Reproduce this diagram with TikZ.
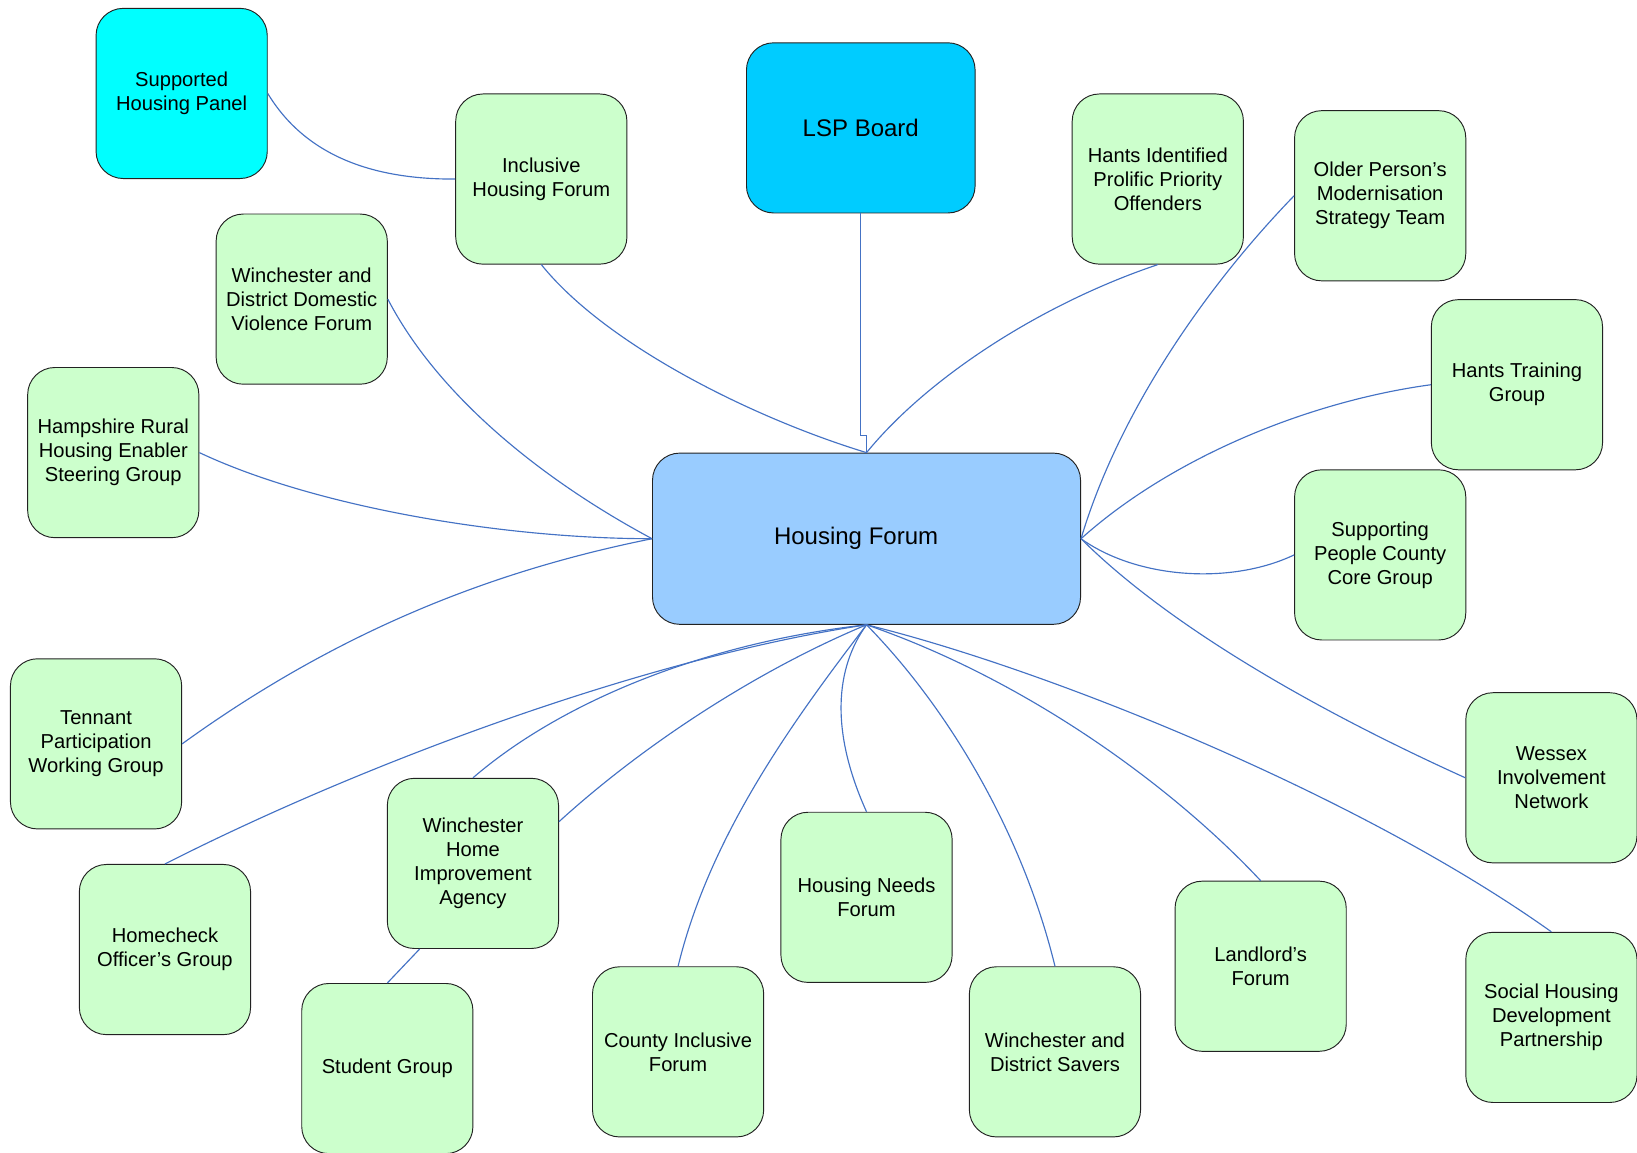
\documentclass[tikz,border=0pt]{standalone}
\usepackage{fontspec}
\setmainfont{Liberation Sans}
\usetikzlibrary{calc}
\definecolor{boxgreen}{HTML}{CCFFCC}
\definecolor{boxcyan}{HTML}{00FFFF}
\definecolor{boxlsp}{HTML}{00CCFF}
\definecolor{boxhf}{HTML}{99CCFF}
\definecolor{linkblue}{HTML}{4472C4}
\definecolor{edgegray}{HTML}{222222}
\tikzset{
  grp/.style={draw=edgegray, line width=0.9pt, fill=boxgreen, rounded corners=26pt,
    minimum width=164pt, minimum height=163pt, inner sep=0pt, align=center,
    font=\fontsize{19.3}{23}\selectfont},
  link/.style={draw=linkblue, line width=1.1pt},
}
\begin{document}
\begin{tikzpicture}[x=1pt,y=-1pt]
\useasboundingbox (0,0) rectangle (1568,1104);
% nodes
\node[grp, fill=boxcyan] (shp) at (174,89.5) {Supported\\Housing Panel};
\node[grp] (ihf) at (518.5,171.5) {Inclusive\\Housing Forum};
\node[grp, fill=boxlsp, minimum width=219pt, font=\fontsize{23}{27}\selectfont] (lsp) at (824.5,122.5) {LSP Board};
\node[grp] (hipo) at (1109,171.5) {Hants Identified\\Prolific Priority\\Offenders};
\node[grp] (opm) at (1322,187.5) {Older Person’s\\Modernisation\\Strategy Team};
\node[grp] (wddv) at (289,286.5) {Winchester and\\District Domestic\\Violence Forum};
\node[grp] (hrhe) at (108.5,433.5) {Hampshire Rural\\Housing Enabler\\Steering Group};
\node[grp] (htg) at (1453,368.5) {Hants Training\\Group};
\node[grp, fill=boxhf, minimum width=410pt, minimum height=164pt, font=\fontsize{23}{27}\selectfont] (hf) at (830,516) {\hspace*{-20pt}Housing Forum};
\node[grp] (spc) at (1322,531.5) {Supporting\\People County\\Core Group};
\node[grp] (tpw) at (92,712.5) {Tennant\\Participation\\Working Group};
\node[grp] (win) at (1486,745) {Wessex\\Involvement\\Network};
\node[grp] (hco) at (158,909.5) {Homecheck\\Officer’s Group};
\node[grp] (whia) at (453,827) {Winchester\\Home\\Improvement\\Agency};
\node[grp] (hnf) at (830,859.5) {Housing Needs\\Forum};
\node[grp] (llf) at (1207.5,925.5) {Landlord’s\\Forum};
\node[grp] (shdp) at (1486,974.5) {Social Housing\\Development\\Partnership};
\node[grp] (stu) at (371,1023.5) {Student Group};
\node[grp] (cif) at (649.5,1007.5) {County Inclusive\\Forum};
\node[grp] (wds) at (1010.5,1007.5) {Winchester and\\District Savers};
% connectors
\draw[link] (shp.east) .. controls (290,145) and (350,172) .. (ihf.west);
\draw[link] (ihf.south) .. controls (580,330) and (720,400) .. (hf.north);
\draw[link] (lsp.south) -- (824.5,417) -- (830,417) -- (hf.north);
\draw[link] (hipo.south) .. controls (1000,290) and (890,360) .. (hf.north);
\draw[link] (opm.west) .. controls (1150,280) and (1070,400) .. (hf.east);
\draw[link] (htg.west) .. controls (1250,385) and (1120,440) .. (hf.east);
\draw[link] (spc.west) .. controls (1180,560) and (1090,555) .. (hf.east);
\draw[link] (win.west) .. controls (1260,680) and (1120,600) .. (hf.east);
\draw[link] (wddv.east) .. controls (420,380) and (520,460) .. (hf.west);
\draw[link] (hrhe.east) .. controls (300,485) and (480,516) .. (hf.west);
\draw[link] (tpw.east) .. controls (330,600) and (480,545) .. (hf.west);
\draw[link] (hco.north) .. controls (350,730) and (620,630) .. (hf.south);
\draw[link] (whia.north) .. controls (540,670) and (680,615) .. (hf.south);
\draw[link] ($(whia.east)+(0,-40)$) .. controls (620,710) and (730,640) .. (hf.south);
\draw[link] ($(whia.south)+(-51,0)$) -- (stu.north);
\draw[link] (cif.north) .. controls (680,800) and (760,690) .. (hf.south);
\draw[link] (hnf.north) .. controls (795,700) and (800,640) .. (hf.south);
\draw[link] (wds.north) .. controls (980,800) and (910,680) .. (hf.south);
\draw[link] (llf.north) .. controls (1120,750) and (980,650) .. (hf.south);
\draw[link] (shdp.north) .. controls (1300,760) and (1000,640) .. (hf.south);
\end{tikzpicture}
\end{document}
